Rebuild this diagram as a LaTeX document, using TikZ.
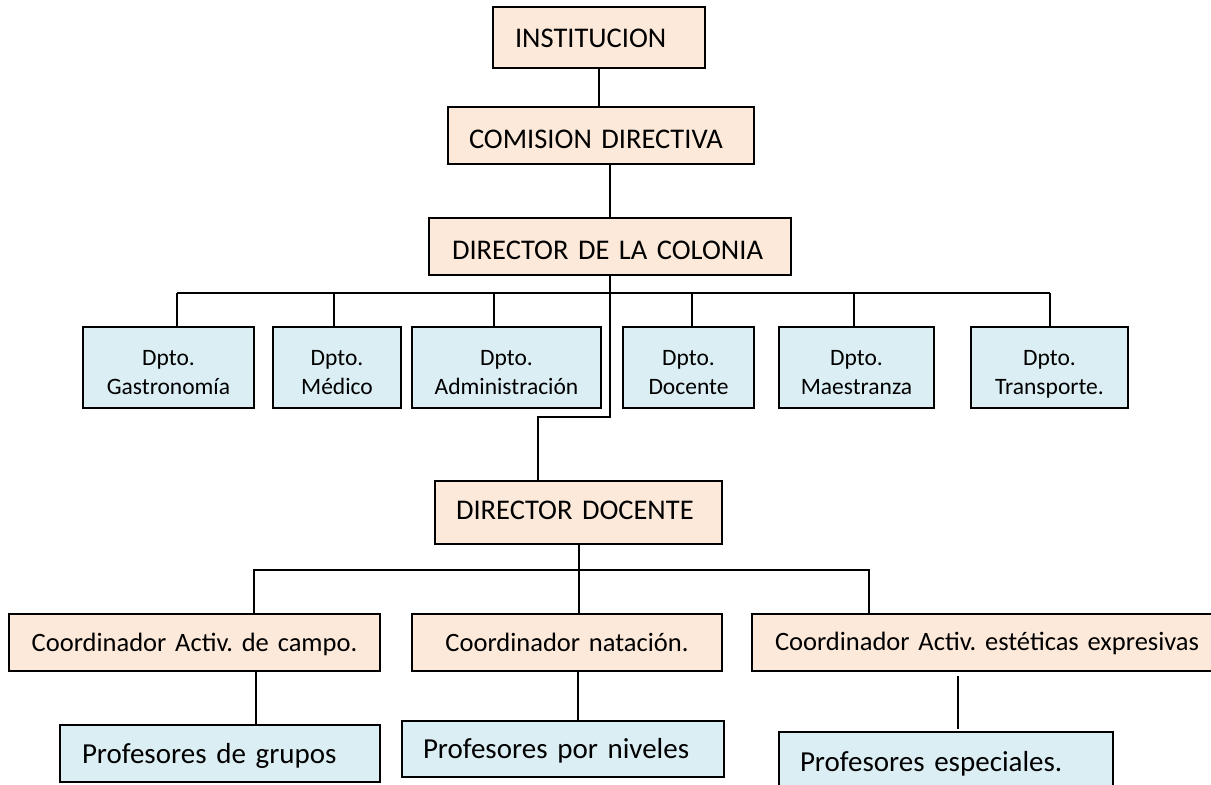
\documentclass[tikz,border=0pt]{standalone}
\usepackage{fontspec}
\setmainfont{Carlito}
\definecolor{peach}{HTML}{FDE9D9}
\definecolor{paleblue}{HTML}{DBEEF4}
\tikzset{
  boxbase/.style={draw=black, line width=2.4pt, outer sep=0pt, inner ysep=0pt, anchor=base west},
  topbox/.style={boxbase, fill=peach, align=left, font=\fontsize{28.5pt}{34pt}\selectfont},
  coordbox/.style={boxbase, fill=peach, font=\fontsize{26.5pt}{32pt}\selectfont},
  dptobox/.style={boxbase, fill=paleblue, align=center, inner xsep=0pt, font=\fontsize{23.5pt}{29.5pt}\selectfont},
  profbox/.style={boxbase, fill=paleblue, align=left, font=\fontsize{29pt}{35pt}\selectfont},
  conn/.style={draw=black, line width=2pt}
}
\begin{document}
\begin{tikzpicture}[x=1pt, y=-1pt]
\useasboundingbox (0,0) rectangle (1211,785);
\fill[white] (0,0) rectangle (1211,785);
\clip (0,0) rectangle (1211,785);

% top chain
\node[topbox, inner xsep=22pt, text width=168pt, text height=40pt, text depth=21pt] (inst) at (493,47) {INSTITUCION};
\node[topbox, inner xsep=21pt, text width=264pt, text height=41pt, text depth=16pt] (com) at (448,148) {COMISION~DIRECTIVA};
\node[topbox, inner xsep=23pt, text width=316pt, text height=41pt, text depth=16pt] (dircol) at (429,259) {DIRECTOR~DE~LA~COLONIA};

% departments
\node[dptobox, text width=171pt, text height=38pt, text depth=43pt] (gas) at (83,365) {Dpto.\\Gastronomía};
\node[dptobox, text width=128pt, text height=38pt, text depth=43pt] (med) at (273,365) {Dpto.\\Médico};
\node[dptobox, text width=189pt, text height=38pt, text depth=43pt] (adm) at (412,365) {Dpto.\\Administración};
\node[dptobox, text width=131pt, text height=38pt, text depth=43pt] (doc) at (623,365) {Dpto.\\Docente};
\node[dptobox, text width=155pt, text height=38pt, text depth=43pt] (mae) at (779,365) {Dpto.\\Maestranza};
\node[dptobox, text width=157pt, text height=38pt, text depth=43pt] (tra) at (971,365) {Dpto.\\Transporte.};

% director docente
\node[topbox, inner xsep=21pt, text width=245pt, text height=38pt, text depth=25pt] (dd) at (435,519) {DIRECTOR~DOCENTE};

% coordinators
\node[coordbox, align=center, inner xsep=0pt, text width=371pt, text height=37pt, text depth=20pt] (c1) at (9,651) {Coordinador~Activ.~de~campo.};
\node[coordbox, align=center, inner xsep=0pt, text width=310pt, text height=37pt, text depth=20pt] (c2) at (412,651) {Coordinador~natación.};
\node[coordbox, align=left, inner xsep=23pt, text width=434pt, text height=36pt, text depth=21pt] (c3) at (752,650) {Coordinador~Activ.~estéticas~expresivas};

% profesores
\node[profbox, inner xsep=22pt, text width=276pt, text height=38pt, text depth=19pt] (p1) at (60,763) {Profesores~de~grupos};
\node[profbox, inner xsep=21pt, text width=280pt, text height=37pt, text depth=19pt] (p2) at (402,758) {Profesores~por~niveles};
\node[profbox, inner xsep=21pt, text width=292pt, text height=39pt, text depth=21pt] (p3) at (779,771) {Profesores~especiales.};

% connectors: top chain
\draw[conn] (inst.south) -- (inst.south |- com.north);
\draw[conn] (dircol.north) -- (dircol.north |- com.south);

% department bus
\coordinate (b1) at (177,293);
\coordinate (b2) at (334,293);
\coordinate (b3) at (494,293);
\coordinate (b4) at (692,293);
\coordinate (b5) at (854,293);
\coordinate (b6) at (1050,293);
\draw[conn] (b1) -- (b6);
\draw[conn] (b1) -- (b1 |- gas.north);
\draw[conn] (b2) -- (b2 |- med.north);
\draw[conn] (b3) -- (b3 |- adm.north);
\draw[conn] (b4) -- (b4 |- doc.north);
\draw[conn] (b5) -- (b5 |- mae.north);
\draw[conn] (b6) -- (b6 |- tra.north);

% director de la colonia -> director docente
\coordinate (e1) at (538,417);
\draw[conn] (dircol.south) |- (e1) -- (e1 |- dd.north);

% coordinators bus
\draw[conn] (dd.south) -- (dd.south |- c2.north);
\coordinate (k1) at (254,570);
\coordinate (k3) at (869,570);
\draw[conn] (k1 |- c1.north) -- (k1) -- (k3) -- (k3 |- c3.north);

% coordinators -> profesores
\coordinate (m1) at (256,698);
\coordinate (m2) at (578,695);
\coordinate (m3) at (958,700);
\draw[conn] (m1 |- c1.south) -- (m1 |- p1.north);
\draw[conn] (m2 |- c2.south) -- (m2 |- p2.north);
\draw[conn, shorten <=5pt, shorten >=3pt] (m3 |- c3.south) -- (m3 |- p3.north);
\end{tikzpicture}
\end{document}
